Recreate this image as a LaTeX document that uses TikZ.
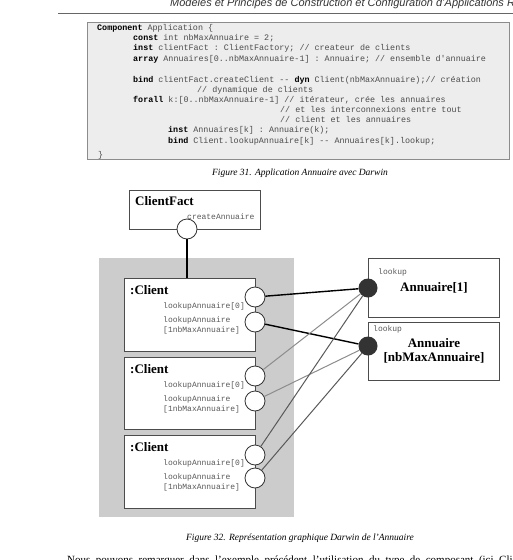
\documentclass[tikz,border=0pt]{standalone}
\usepackage{fontspec}
\setmainfont{Liberation Serif}
\setsansfont{Liberation Sans}
\setmonofont{Liberation Mono}
\usetikzlibrary{positioning}

\newcommand{\kw}[1]{\textbf{\color{black}#1}}

\tikzset{
  codeline/.style={anchor=base west, inner sep=0pt, text=black!70,
    font=\ttfamily\fontsize{8.4}{10}\selectfont},
  caption/.style={inner sep=0pt, font=\itshape\fontsize{9.5}{11}\selectfont},
  compbox/.style={draw=black!70, fill=white, line width=0.8pt,
    anchor=north west, minimum width=131pt},
  comptitle/.style={inner sep=0pt, font=\bfseries\fontsize{13}{14}\selectfont},
  portlabel/.style={inner sep=0pt, anchor=base west, align=left, text=black!65,
    font=\ttfamily\fontsize{8}{10}\selectfont},
  reqport/.style={circle, draw=black!80, fill=white, line width=0.8pt,
    minimum size=20pt, inner sep=0pt},
  provport/.style={circle, fill=black!80, minimum size=19pt, inner sep=0pt},
  bindone/.style={draw=black, line width=1.4pt},
  bindtwo/.style={draw=black!45, line width=1pt},
  bindthree/.style={draw=black!65, line width=1pt},
}

\begin{document}
\begin{tikzpicture}[x=1pt, y=-1pt]
    \useasboundingbox (0,0) rectangle (513,560);
    \clip (0,0) rectangle (513,560);

    % page header
    \node[anchor=base west, inner sep=0pt, font=\sffamily\itshape\fontsize{11}{13}\selectfont,
      text=black!80] (header) at (170,6)
      {Modèles et Principes de Construction et Configuration d'Applications Réparties};
    \draw[black!60, line width=0.8pt] (58,13) -- (513,13);

    % code listing
    \draw[black!45, fill=black!7, line width=0.8pt] (87,22) rectangle (509,159);
    \node[codeline] (cl1) at (97,30) {\kw{Component} Application \{};
    \node[codeline] (cl2) at (133,40) {\kw{const} int nbMaxAnnuaire = 2;};
    \node[codeline] (cl3) at (133,50) {\kw{inst} clientFact : ClientFactory; // createur de clients};
    \node[codeline] (cl4) at (133,61) {\kw{array} Annuaires[0..nbMaxAnnuaire-1] : Annuaire; // ensemble d'annuaire};
    \node[codeline] (cl5) at (133,82) {\kw{bind} clientFact.createClient -- \kw{dyn} Client(nbMaxAnnuaire);// création};
    \node[codeline] (cl6) at (197,92) {// dynamique de clients};
    \node[codeline] (cl7) at (133,102) {\kw{forall} k:[0..nbMaxAnnuaire-1] // itérateur, crée les annuaires};
    \node[codeline] (cl8) at (280,112) {// et les interconnexions entre tout};
    \node[codeline] (cl9) at (280,122) {// client et les annuaires};
    \node[codeline] (cl10) at (168,132) {\kw{inst} Annuaires[k] : Annuaire(k);};
    \node[codeline] (cl11) at (168,143) {\kw{bind} Client.lookupAnnuaire[k] -- Annuaires[k].lookup;};
    \node[codeline] (cl12) at (98,157) {\}};

    \node[caption] (fig31) at (300,173) {Figure 31. Application Annuaire avec Darwin};

    % composite of clients
    \fill[black!20] (99,258) rectangle (294,517);

    % client factory
    \node[compbox, minimum height=39pt] (clientfact) at (129,190) {};
    \node[comptitle, below right=6pt and 6pt of clientfact.north west] (cftitle) {ClientFact};
    \node[reqport] (create) at (187,229) {};
    \node[portlabel] (createlbl) at (187,219.5) {createAnnuaire};

    % clients
    \node[compbox, minimum height=73pt] (client1) at (124,278) {};
    \node[comptitle, below right=7pt and 6pt of client1.north west] (c1title) {:Client};
    \node[portlabel] (c1lbla) at (163,308) {lookupAnnuaire[0]};
    \node[portlabel] (c1lblb) at (163,332) {lookupAnnuaire\\{[}1nbMaxAnnuaire{]}};
    \node[reqport] (c1a) at (255,297) {};
    \node[reqport] (c1b) at (255,322) {};

    \node[compbox, minimum height=72pt] (client2) at (124,357) {};
    \node[comptitle, below right=7pt and 6pt of client2.north west] (c2title) {:Client};
    \node[portlabel] (c2lbla) at (163,387) {lookupAnnuaire[0]};
    \node[portlabel] (c2lblb) at (163,411) {lookupAnnuaire\\{[}1nbMaxAnnuaire{]}};
    \node[reqport] (c2a) at (255,376) {};
    \node[reqport] (c2b) at (255,401) {};

    \node[compbox, minimum height=73pt] (client3) at (124,435) {};
    \node[comptitle, below right=7pt and 6pt of client3.north west] (c3title) {:Client};
    \node[portlabel] (c3lbla) at (163,465) {lookupAnnuaire[0]};
    \node[portlabel] (c3lblb) at (163,489) {lookupAnnuaire\\{[}1nbMaxAnnuaire{]}};
    \node[reqport] (c3a) at (255,455) {};
    \node[reqport] (c3b) at (255,478) {};

    \draw[bindone] (create) -- (create |- client1.north);

    % annuaires
    \node[compbox, minimum height=59pt] (annu1) at (368,258) {};
    \node[portlabel] (a1lbl) at (378,274) {lookup};
    \node[comptitle] (a1title) at (434,288) {Annuaire[1]};
    \node[provport] (a1port) at (368,288) {};

    \node[compbox, minimum height=58pt] (annu2) at (368,322) {};
    \node[portlabel] (a2lbl) at (373,331) {lookup};
    \node[comptitle, align=center] (a2title) at (434,351) {Annuaire\\{[}nbMaxAnnuaire{]}};
    \node[provport] (a2port) at (368,346) {};

    % bindings
    \draw[bindone] (c1a) -- (a1port);
    \draw[bindone] (c1b) -- (a2port);
    \draw[bindtwo] (c2a) -- (a1port);
    \draw[bindtwo] (c2b) -- (a2port);
    \draw[bindthree] (c3a) -- (a1port);
    \draw[bindthree] (c3b) -- (a2port);

    \node[caption] (fig32) at (300,538) {Figure 32. Représentation graphique Darwin de l'Annuaire};

    % body text
    \node[anchor=base west, inner sep=0pt, font=\fontsize{11}{13}\selectfont] (bodytext) at (67,563)
      {Nous\ \ pouvons\ \ remarquer\ \ dans\ \ l'exemple\ \ précédent\ \ l'utilisation\ \ du\ \ type\ \ de\ \ composant\ \ (ici\ \ Client)};
\end{tikzpicture}
\end{document}
